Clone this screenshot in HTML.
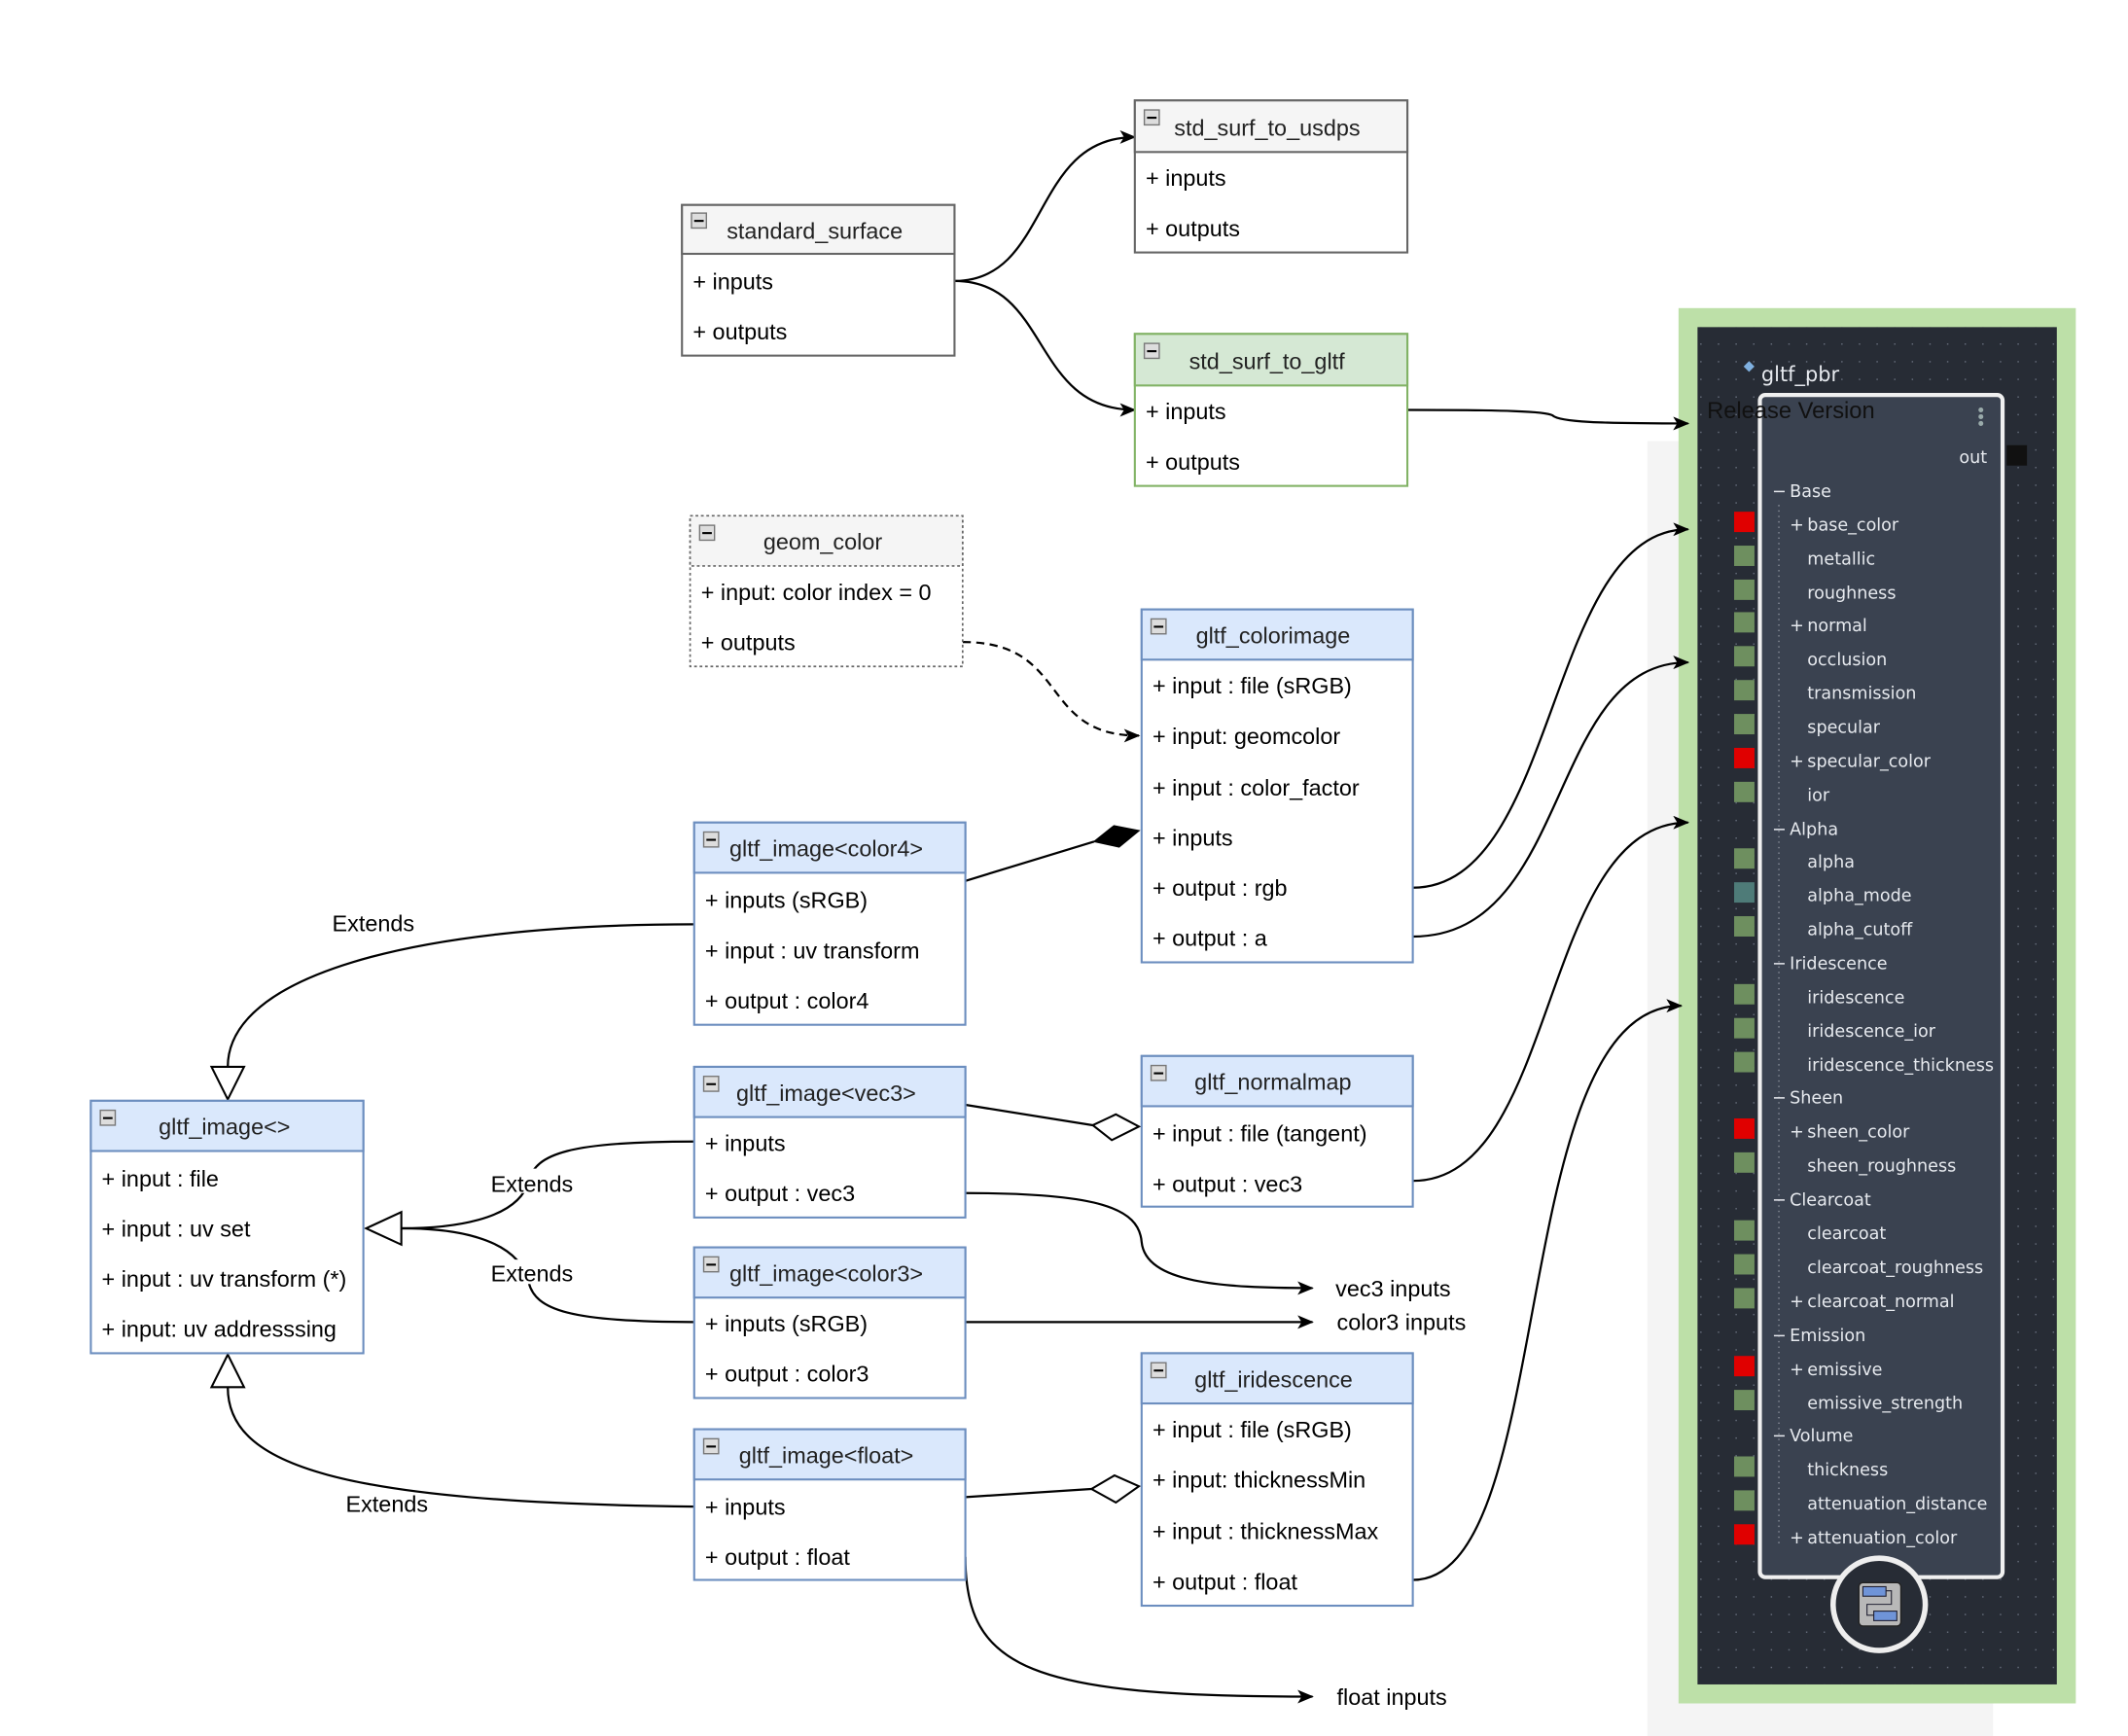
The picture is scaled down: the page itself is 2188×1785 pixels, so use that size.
<!DOCTYPE html>
<html><head><meta charset="utf-8">
<style>
html,body{margin:0;padding:0;background:#fff;width:2188px;height:1785px;overflow:hidden}
svg{display:block}
.t{font-family:"Liberation Sans",sans-serif;font-size:16.8px;fill:#000}
.h{font-family:"Liberation Sans",sans-serif;font-size:16.8px;fill:#222}
.p{font-family:"DejaVu Sans","Liberation Sans",sans-serif;font-size:12.6px;fill:#e6e9ee}
.c{fill:none;stroke:#000;stroke-width:1.6}
</style></head><body>
<svg width="2188" height="1785" viewBox="0 0 1569.5 1279" preserveAspectRatio="none" xmlns="http://www.w3.org/2000/svg">
<defs>
<marker id="a" markerWidth="12" markerHeight="10" refX="11" refY="5" orient="auto" markerUnits="userSpaceOnUse">
<path d="M0,0 L12,5 L0,10 L3,5 Z" fill="#000"/></marker>
<pattern id="dots" width="13" height="13" patternUnits="userSpaceOnUse"><rect x="6" y="6" width="1" height="1" fill="#6a7180"/></pattern>
</defs>

<rect x="1215" y="325" width="255" height="955" fill="#f4f4f4"/>

<rect x="1238" y="227" width="293" height="1028" fill="#bde0a8"/>
<rect x="1252" y="241" width="265" height="1000" fill="#272c35"/>
<rect x="1252" y="241" width="265" height="1000" fill="url(#dots)"/>
<path d="M1290,266 l4,4 -4,4 -4,-4 z" fill="#7fb0e0"/>
<text class="p" x="1299" y="281" style="font-size:15px">gltf_pbr</text>
<rect x="1298" y="291" width="179" height="871" rx="4" fill="#3a4250" stroke="#f0f0f0" stroke-width="3"/>
<circle cx="1461" cy="302" r="1.8" fill="#9aa"/><circle cx="1461" cy="307" r="1.8" fill="#9aa"/><circle cx="1461" cy="312" r="1.8" fill="#9aa"/>
<text x="1259" y="308" style="font-family:'Liberation Sans',sans-serif;font-size:17px;fill:#111">Release Version</text>
<text class="p" x="1445" y="341">out</text>
<rect x="1480" y="328" width="15" height="15" fill="#111"/>
<line x1="1312" y1="372" x2="1312" y2="1140" stroke="#8a909a" stroke-dasharray="1,3"/>
<g>
<text class="p" x="1307" y="366">−</text><text class="p" x="1320" y="366">Base</text>
<text class="p" x="1320" y="391">+</text><text class="p" x="1333" y="391">base_color</text>
<text class="p" x="1333" y="416">metallic</text>
<text class="p" x="1333" y="441">roughness</text>
<text class="p" x="1320" y="465">+</text><text class="p" x="1333" y="465">normal</text>
<text class="p" x="1333" y="490">occlusion</text>
<text class="p" x="1333" y="515">transmission</text>
<text class="p" x="1333" y="540">specular</text>
<text class="p" x="1320" y="565">+</text><text class="p" x="1333" y="565">specular_color</text>
<text class="p" x="1333" y="590">ior</text>
<text class="p" x="1307" y="615">−</text><text class="p" x="1320" y="615">Alpha</text>
<text class="p" x="1333" y="639">alpha</text>
<text class="p" x="1333" y="664">alpha_mode</text>
<text class="p" x="1333" y="689">alpha_cutoff</text>
<text class="p" x="1307" y="714">−</text><text class="p" x="1320" y="714">Iridescence</text>
<text class="p" x="1333" y="739">iridescence</text>
<text class="p" x="1333" y="764">iridescence_ior</text>
<text class="p" x="1333" y="789">iridescence_thickness</text>
<text class="p" x="1307" y="813">−</text><text class="p" x="1320" y="813">Sheen</text>
<text class="p" x="1320" y="838">+</text><text class="p" x="1333" y="838">sheen_color</text>
<text class="p" x="1333" y="863">sheen_roughness</text>
<text class="p" x="1307" y="888">−</text><text class="p" x="1320" y="888">Clearcoat</text>
<text class="p" x="1333" y="913">clearcoat</text>
<text class="p" x="1333" y="938">clearcoat_roughness</text>
<text class="p" x="1320" y="963">+</text><text class="p" x="1333" y="963">clearcoat_normal</text>
<text class="p" x="1307" y="988">−</text><text class="p" x="1320" y="988">Emission</text>
<text class="p" x="1320" y="1013">+</text><text class="p" x="1333" y="1013">emissive</text>
<text class="p" x="1333" y="1038">emissive_strength</text>
<text class="p" x="1307" y="1062">−</text><text class="p" x="1320" y="1062">Volume</text>
<text class="p" x="1333" y="1087">thickness</text>
<text class="p" x="1333" y="1112">attenuation_distance</text>
<text class="p" x="1320" y="1137">+</text><text class="p" x="1333" y="1137">attenuation_color</text>
</g>
<g>
<rect x="1279" y="377" width="15" height="15" fill="#e00000"/>
<rect x="1279" y="402" width="15" height="15" fill="#6e8f5f"/>
<rect x="1279" y="427" width="15" height="15" fill="#6e8f5f"/>
<rect x="1279" y="451" width="15" height="15" fill="#6e8f5f"/>
<rect x="1279" y="476" width="15" height="15" fill="#6e8f5f"/>
<rect x="1279" y="501" width="15" height="15" fill="#6e8f5f"/>
<rect x="1279" y="526" width="15" height="15" fill="#6e8f5f"/>
<rect x="1279" y="551" width="15" height="15" fill="#e00000"/>
<rect x="1279" y="576" width="15" height="15" fill="#6e8f5f"/>
<rect x="1279" y="625" width="15" height="15" fill="#6e8f5f"/>
<rect x="1279" y="650" width="15" height="15" fill="#4e7b78"/>
<rect x="1279" y="675" width="15" height="15" fill="#6e8f5f"/>
<rect x="1279" y="725" width="15" height="15" fill="#6e8f5f"/>
<rect x="1279" y="750" width="15" height="15" fill="#6e8f5f"/>
<rect x="1279" y="775" width="15" height="15" fill="#6e8f5f"/>
<rect x="1279" y="824" width="15" height="15" fill="#e00000"/>
<rect x="1279" y="849" width="15" height="15" fill="#6e8f5f"/>
<rect x="1279" y="899" width="15" height="15" fill="#6e8f5f"/>
<rect x="1279" y="924" width="15" height="15" fill="#6e8f5f"/>
<rect x="1279" y="949" width="15" height="15" fill="#6e8f5f"/>
<rect x="1279" y="999" width="15" height="15" fill="#e00000"/>
<rect x="1279" y="1024" width="15" height="15" fill="#6e8f5f"/>
<rect x="1279" y="1073" width="15" height="15" fill="#6e8f5f"/>
<rect x="1279" y="1098" width="15" height="15" fill="#6e8f5f"/>
<rect x="1279" y="1123" width="15" height="15" fill="#e00000"/>
</g>
<circle cx="1386" cy="1182" r="34" fill="#272c35" stroke="#eeeeee" stroke-width="4"/>
<rect x="1371" y="1166" width="31" height="32" rx="3" fill="#b8b8b8" stroke="#222" stroke-width="1"/>
<rect x="1374" y="1169" width="17" height="7" fill="#6f94d8" stroke="#223" stroke-width="0.8"/>
<rect x="1382" y="1187" width="17" height="7" fill="#6f94d8" stroke="#223" stroke-width="0.8"/>
<path d="M1391,1172 h4 v10 h-18 v8 h5" fill="none" stroke="#223" stroke-width="0.8"/>

<path class="c" d="M704,207 C775,207 760,101 837,101" marker-end="url(#a)"/>
<path class="c" d="M704,207 C775,207 760,302 837,302" marker-end="url(#a)"/>
<path class="c" d="M1038,302 C1110,302 1140,303 1145,306 C1150,311 1180,312 1245,312" marker-end="url(#a)"/>
<path class="c" d="M710,473 C790,473 765,542 840,542" stroke-dasharray="6,4" marker-end="url(#a)"/>
<path class="c" d="M1042,654 C1150,654 1140,390 1245,390" marker-end="url(#a)"/>
<path class="c" d="M1042,690 C1160,690 1140,488 1245,488" marker-end="url(#a)"/>
<path class="c" d="M1042,870 C1150,870 1135,606 1245,606" marker-end="url(#a)"/>
<path class="c" d="M1042,1164 C1150,1164 1110,741 1240,741" marker-end="url(#a)"/>
<path class="c" d="M712,879 C810,879 840,890 842,915 C845,945 900,949 968,949" marker-end="url(#a)"/>
<path class="c" d="M712,974 L968,974" marker-end="url(#a)"/>
<path class="c" d="M712,1147 C712,1230 760,1250 968,1250" marker-end="url(#a)"/>
<path class="c" d="M712,649 L807,620"/>
<polygon points="807,620 821.6,608.4 840,612 825.4,624" fill="#000" stroke="#000"/>
<path class="c" d="M712,814 L806,829"/>
<polygon points="806,829 823,821 840,830 820,840" fill="#fff" stroke="#000" stroke-width="1.5"/>
<path class="c" d="M712,1103 L805,1097"/>
<polygon points="805,1097 822,1087 840,1095 823,1107" fill="#fff" stroke="#000" stroke-width="1.5"/>
<path class="c" d="M512,681 C300,681 168,720 168,786"/>
<polygon points="168,810 156,786 180,786" fill="#fff" stroke="#000" stroke-width="1.5"/>
<path class="c" d="M512,841 C420,841 395,850 390,870 C382,900 330,905 296,905"/>
<path class="c" d="M512,974 C420,974 395,965 390,945 C382,910 330,905 296,905"/>
<polygon points="270,905 296,893 296,917" fill="#fff" stroke="#000" stroke-width="1.5"/>
<path class="c" d="M512,1110 C250,1107 168,1080 168,1022"/>
<polygon points="168,998 156,1022 180,1022" fill="#fff" stroke="#000" stroke-width="1.5"/>
<rect x="243" y="669" width="62" height="18" fill="#fff"/><text class="t" x="245" y="686">Extends</text>
<rect x="360" y="861" width="62" height="18" fill="#fff"/><text class="t" x="362" y="878">Extends</text>
<rect x="360" y="928" width="62" height="18" fill="#fff"/><text class="t" x="362" y="944">Extends</text>
<text class="t" x="255" y="1114">Extends</text>
<text class="t" x="985" y="955">vec3 inputs</text>
<text class="t" x="986" y="980">color3 inputs</text>
<text class="t" x="986" y="1256">float inputs</text>

<g>
<rect x="503" y="151" width="201" height="111" fill="#fff" stroke="#666" stroke-width="1.5"/>
<rect x="503" y="151" width="201" height="36" fill="#f5f5f5" stroke="#666" stroke-width="1.5"/>
<rect x="510" y="157" width="11" height="11" fill="#ddd" stroke="#777"/><rect x="512" y="162" width="7" height="1.5" fill="#000"/>
<text class="h" x="536" y="176">standard_surface</text>
<text class="t" x="511" y="213">+ inputs</text><text class="t" x="511" y="250">+ outputs</text>
</g>
<g>
<rect x="837" y="74" width="201" height="112" fill="#fff" stroke="#666" stroke-width="1.5"/>
<rect x="837" y="74" width="201" height="38" fill="#f5f5f5" stroke="#666" stroke-width="1.5"/>
<rect x="844" y="81" width="11" height="11" fill="#ddd" stroke="#777"/><rect x="846" y="86" width="7" height="1.5" fill="#000"/>
<text class="h" x="866" y="100">std_surf_to_usdps</text>
<text class="t" x="845" y="137">+ inputs</text><text class="t" x="845" y="174">+ outputs</text>
</g>
<g>
<rect x="837" y="246" width="201" height="112" fill="#fff" stroke="#82b366" stroke-width="1.5"/>
<rect x="837" y="246" width="201" height="38" fill="#d5e8d4" stroke="#82b366" stroke-width="1.5"/>
<rect x="844" y="253" width="11" height="11" fill="#ddd" stroke="#777"/><rect x="846" y="258" width="7" height="1.5" fill="#000"/>
<text class="h" x="877" y="272">std_surf_to_gltf</text>
<text class="t" x="845" y="309">+ inputs</text><text class="t" x="845" y="346">+ outputs</text>
</g>
<g>
<rect x="509" y="380" width="201" height="111" fill="#fff" stroke="#666" stroke-width="1.2" stroke-dasharray="2,2"/>
<rect x="509" y="380" width="201" height="37" fill="#f5f5f5" stroke="#666" stroke-width="1.2" stroke-dasharray="2,2"/>
<rect x="516" y="387" width="11" height="11" fill="#ddd" stroke="#777"/><rect x="518" y="392" width="7" height="1.5" fill="#000"/>
<text class="h" x="563" y="405">geom_color</text>
<text class="t" x="517" y="442">+ input: color index = 0</text><text class="t" x="517" y="479">+ outputs</text>
</g>
<g>
<rect x="842" y="449" width="200" height="260" fill="#fff" stroke="#6c8ebf" stroke-width="1.5"/>
<rect x="842" y="449" width="200" height="37" fill="#dae8fc" stroke="#6c8ebf" stroke-width="1.5"/>
<rect x="849" y="456" width="11" height="11" fill="#ddd" stroke="#777"/><rect x="851" y="461" width="7" height="1.5" fill="#000"/>
<text class="h" x="882" y="474">gltf_colorimage</text>
<text class="t" x="850" y="511">+ input : file (sRGB)</text>
<text class="t" x="850" y="548">+ input: geomcolor</text>
<text class="t" x="850" y="586">+ input : color_factor</text>
<text class="t" x="850" y="623">+ inputs</text>
<text class="t" x="850" y="660">+ output : rgb</text>
<text class="t" x="850" y="697">+ output : a</text>
</g>
<g>
<rect x="512" y="606" width="200" height="149" fill="#fff" stroke="#6c8ebf" stroke-width="1.5"/>
<rect x="512" y="606" width="200" height="37" fill="#dae8fc" stroke="#6c8ebf" stroke-width="1.5"/>
<rect x="519" y="613" width="11" height="11" fill="#ddd" stroke="#777"/><rect x="521" y="618" width="7" height="1.5" fill="#000"/>
<text class="h" x="538" y="631">gltf_image&lt;color4&gt;</text>
<text class="t" x="520" y="669">+ inputs (sRGB)</text>
<text class="t" x="520" y="706">+ input : uv transform</text>
<text class="t" x="520" y="743">+ output : color4</text>
</g>
<g>
<rect x="512" y="786" width="200" height="111" fill="#fff" stroke="#6c8ebf" stroke-width="1.5"/>
<rect x="512" y="786" width="200" height="37" fill="#dae8fc" stroke="#6c8ebf" stroke-width="1.5"/>
<rect x="519" y="793" width="11" height="11" fill="#ddd" stroke="#777"/><rect x="521" y="798" width="7" height="1.5" fill="#000"/>
<text class="h" x="543" y="811">gltf_image&lt;vec3&gt;</text>
<text class="t" x="520" y="848">+ inputs</text>
<text class="t" x="520" y="885">+ output : vec3</text>
</g>
<g>
<rect x="512" y="919" width="200" height="111" fill="#fff" stroke="#6c8ebf" stroke-width="1.5"/>
<rect x="512" y="919" width="200" height="37" fill="#dae8fc" stroke="#6c8ebf" stroke-width="1.5"/>
<rect x="519" y="926" width="11" height="11" fill="#ddd" stroke="#777"/><rect x="521" y="931" width="7" height="1.5" fill="#000"/>
<text class="h" x="538" y="944">gltf_image&lt;color3&gt;</text>
<text class="t" x="520" y="981">+ inputs (sRGB)</text>
<text class="t" x="520" y="1018">+ output : color3</text>
</g>
<g>
<rect x="512" y="1053" width="200" height="111" fill="#fff" stroke="#6c8ebf" stroke-width="1.5"/>
<rect x="512" y="1053" width="200" height="37" fill="#dae8fc" stroke="#6c8ebf" stroke-width="1.5"/>
<rect x="519" y="1060" width="11" height="11" fill="#ddd" stroke="#777"/><rect x="521" y="1065" width="7" height="1.5" fill="#000"/>
<text class="h" x="545" y="1078">gltf_image&lt;float&gt;</text>
<text class="t" x="520" y="1116">+ inputs</text>
<text class="t" x="520" y="1153">+ output : float</text>
</g>
<g>
<rect x="842" y="778" width="200" height="111" fill="#fff" stroke="#6c8ebf" stroke-width="1.5"/>
<rect x="842" y="778" width="200" height="37" fill="#dae8fc" stroke="#6c8ebf" stroke-width="1.5"/>
<rect x="849" y="785" width="11" height="11" fill="#ddd" stroke="#777"/><rect x="851" y="790" width="7" height="1.5" fill="#000"/>
<text class="h" x="881" y="803">gltf_normalmap</text>
<text class="t" x="850" y="841">+ input : file (tangent)</text>
<text class="t" x="850" y="878">+ output : vec3</text>
</g>
<g>
<rect x="842" y="997" width="200" height="186" fill="#fff" stroke="#6c8ebf" stroke-width="1.5"/>
<rect x="842" y="997" width="200" height="37" fill="#dae8fc" stroke="#6c8ebf" stroke-width="1.5"/>
<rect x="849" y="1004" width="11" height="11" fill="#ddd" stroke="#777"/><rect x="851" y="1009" width="7" height="1.5" fill="#000"/>
<text class="h" x="881" y="1022">gltf_iridescence</text>
<text class="t" x="850" y="1059">+ input : file (sRGB)</text>
<text class="t" x="850" y="1096">+ input: thicknessMin</text>
<text class="t" x="850" y="1134">+ input : thicknessMax</text>
<text class="t" x="850" y="1171">+ output : float</text>
</g>
<g>
<rect x="67" y="811" width="201" height="186" fill="#fff" stroke="#6c8ebf" stroke-width="1.5"/>
<rect x="67" y="811" width="201" height="37" fill="#dae8fc" stroke="#6c8ebf" stroke-width="1.5"/>
<rect x="74" y="818" width="11" height="11" fill="#ddd" stroke="#777"/><rect x="76" y="823" width="7" height="1.5" fill="#000"/>
<text class="h" x="117" y="836">gltf_image&lt;&gt;</text>
<text class="t" x="75" y="874">+ input : file</text>
<text class="t" x="75" y="911">+ input : uv set</text>
<text class="t" x="75" y="948">+ input : uv transform (*)</text>
<text class="t" x="75" y="985">+ input: uv addresssing</text>
</g>
</svg>
</body></html>
